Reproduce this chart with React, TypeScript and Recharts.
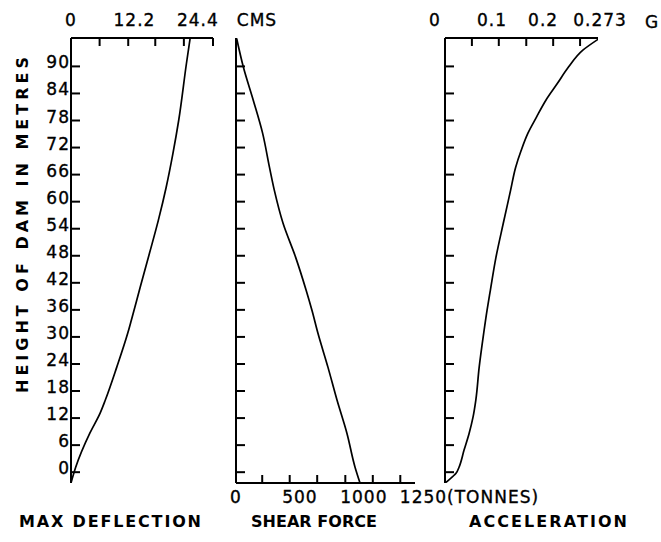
import { LineChart, Line, XAxis, YAxis } from 'recharts';

const W = 661;
const H = 542;
const FONT = '"DejaVu Sans", sans-serif';

// height of dam in metres (shared y axis)
const HEIGHT_TICKS = [0, 6, 12, 18, 24, 30, 36, 42, 48, 54, 60, 66, 72, 78, 84, 90];
const HEIGHT_DOMAIN = [-2.4, 96.3];

// max deflection (cms)
const DEFL_H = [96.2, 90.7, 78.0, 70.7, 63.2, 55.9, 48.6, 41.0, 33.7, 30.8, 23.3, 16.0, 13.1, 8.6, 1.1, -2.4];
const DEFL_CM = [22.9, 22.2, 20.7, 19.6, 18.3, 16.8, 15.1, 13.3, 11.6, 10.9, 8.8, 6.6, 5.6, 3.6, 0.9, 0];
const DEFL_MINOR = [5.5, 11, 16.2, 21.7, 27.3];
const DEFL_LABELS = [0, 12.2, 24.4];

// shear force (tonnes)
const SHEAR_H = [96.2, 89.8, 82.5, 75.2, 67.6, 62.5, 55.2, 47.7, 40.4, 35.9, 30.8, 23.3, 16.0, 8.6, 1.1, -2.4];
const SHEAR_T = [5, 58, 135, 208, 262, 300, 368, 466, 548, 594, 641, 719, 790, 868, 931, 970];
const SHEAR_MINOR = [205, 420, 635, 855, 1070, 1285];
const SHEAR_LABELS = [0, 500, 1000, 1250];

// acceleration (g)
const ACC_H = [96.0, 93.6, 89.8, 86.3, 82.5, 78.7, 75.2, 71.4, 67.6, 62.5, 55.2, 47.7, 40.4, 35.9, 30.8, 23.3, 16.0, 12.2, 8.6, 4.9, 1.1, -0.2, -1.8, -2.4];
const ACC_G = [0.273, 0.246, 0.22, 0.201, 0.18, 0.163, 0.148, 0.136, 0.126, 0.117, 0.104, 0.091, 0.081, 0.075, 0.069, 0.061, 0.055, 0.05, 0.043, 0.034, 0.025, 0.02, 0.006, 0];
const ACC_MINOR = [0.048, 0.096, 0.145, 0.193, 0.241];
const ACC_LABELS = [0, 0.1, 0.2, 0.273];

// ascending by height so the monotone curve runs bottom to top
const toRows = (hs: number[], xs: number[]) => hs.map((h, i) => ({ h, x: xs[i] })).reverse();

const labelStyle = { fontFamily: FONT, fontSize: 17, fill: '#000', stroke: '#000', strokeWidth: 0.35, letterSpacing: 1 };
const titleStyle = { fontFamily: FONT, fontSize: 16, fontWeight: 700, fill: '#000' };

const ACC_DX: Record<string, number> = { '0': -10, '0.1': -9, '0.2': -14, '0.273': 2 };

function TopTick(props: any) {
  const { x, y, payload, minor, labels, dxMap } = props;
  const v = payload.value;
  const dx = dxMap ? dxMap[String(v)] || 0 : 0;
  return (
    <g>
      {minor.includes(v) && <line x1={x} y1={y} x2={x} y2={y + 8} stroke="#000" strokeWidth={2} />}
      {labels.includes(v) && (
        <text x={x + dx} y={y - 18} textAnchor="middle" dominantBaseline="central" style={labelStyle}>{String(v)}</text>
      )}
    </g>
  );
}

function BottomTick(props: any) {
  const { x, y, payload } = props;
  const v = payload.value;
  if (v === 1250) {
    return <text x={x + 4} y={y + 14} textAnchor="start" dominantBaseline="central" style={labelStyle}>1250(TONNES)</text>;
  }
  return (
    <g>
      {SHEAR_MINOR.includes(v) && <line x1={x} y1={y} x2={x} y2={y - 8} stroke="#000" strokeWidth={2} />}
      {SHEAR_LABELS.includes(v) && (
        <text x={x} y={y + 14} textAnchor="middle" dominantBaseline="central" style={labelStyle}>{String(v)}</text>
      )}
    </g>
  );
}

function SideTick(props: any) {
  const { x, y, payload, showLabel } = props;
  return (
    <g>
      <line x1={x} y1={y} x2={x + 9} y2={y} stroke="#000" strokeWidth={2} />
      {showLabel && (
        <text x={x - 1} y={y - 4} textAnchor="end" dominantBaseline="central" style={labelStyle}>{payload.value}</text>
      )}
    </g>
  );
}

const axisLine = { stroke: '#000', strokeWidth: 2 };
const boxStyle = { position: 'absolute' as const, left: 0, top: 0 };

function heightAxis(showLabel: boolean) {
  return (
    <YAxis type="number" dataKey="h" domain={HEIGHT_DOMAIN} allowDataOverflow reversed ticks={HEIGHT_TICKS} interval={0}
      width={40} tickSize={0} tickMargin={0} tickLine={false} axisLine={axisLine}
      tick={(p: any) => <SideTick {...p} showLabel={showLabel} />} />
  );
}

function curve() {
  return <Line type="monotone" dataKey="x" stroke="#000" strokeWidth={1.7} dot={false} isAnimationActive={false} />;
}

export default function App() {
  return (
    <div style={{ position: 'relative', width: W, height: H, background: '#fff' }}>
      <style>{'body{margin:0}'}</style>

      <div style={boxStyle}>
        <LineChart layout="vertical" data={toRows(DEFL_H, DEFL_CM)} width={W} height={H}
          margin={{ top: 18, right: 448, bottom: 59, left: 31 }}>
          <XAxis type="number" orientation="top" domain={[0, 27.3]} allowDataOverflow height={20}
            ticks={[0, ...DEFL_MINOR, 12.2, 24.4].sort((a, b) => a - b)} interval={0}
            tickSize={0} tickMargin={0} tickLine={false} axisLine={axisLine}
            tick={(p: any) => <TopTick {...p} minor={DEFL_MINOR} labels={DEFL_LABELS} />} />
          {heightAxis(true)}
          {curve()}
        </LineChart>
      </div>

      <div style={boxStyle}>
        <LineChart layout="vertical" data={toRows(SHEAR_H, SHEAR_T)} width={W} height={H}
          margin={{ top: 38, right: 246, bottom: 39, left: 196 }}>
          <XAxis type="number" orientation="bottom" domain={[0, 1400]} allowDataOverflow height={20}
            ticks={[0, ...SHEAR_MINOR, 500, 1000, 1250].sort((a, b) => a - b)} interval={0}
            tickSize={0} tickMargin={0} tickLine={false} axisLine={axisLine}
            tick={(p: any) => <BottomTick {...p} />} />
          {heightAxis(false)}
          {curve()}
        </LineChart>
      </div>

      <div style={boxStyle}>
        <LineChart layout="vertical" data={toRows(ACC_H, ACC_G)} width={W} height={H}
          margin={{ top: 18, right: 63, bottom: 59, left: 405 }}>
          <XAxis type="number" orientation="top" domain={[0, 0.273]} allowDataOverflow height={20}
            ticks={[0, ...ACC_MINOR, 0.1, 0.2, 0.273].sort((a, b) => a - b)} interval={0}
            tickSize={0} tickMargin={0} tickLine={false} axisLine={axisLine}
            tick={(p: any) => <TopTick {...p} minor={ACC_MINOR} labels={ACC_LABELS} dxMap={ACC_DX} />} />
          {heightAxis(false)}
          {curve()}
        </LineChart>
      </div>

      <svg width={W} height={H} style={{ ...boxStyle, pointerEvents: 'none' }}>
        <text x={257} y={20} textAnchor="middle" dominantBaseline="central" style={labelStyle}>CMS</text>
        <text x={652} y={22} textAnchor="middle" dominantBaseline="central" style={labelStyle}>G</text>
        <text transform="translate(22,225) rotate(-90)" textAnchor="middle" dominantBaseline="central"
          textLength={336} lengthAdjust="spacing" style={titleStyle}>HEIGHT OF DAM IN METRES</text>
        <text x={110} y={521} textAnchor="middle" dominantBaseline="central" textLength={182} lengthAdjust="spacing" style={titleStyle}>MAX DEFLECTION</text>
        <text x={314} y={521} textAnchor="middle" dominantBaseline="central" textLength={126} lengthAdjust="spacing" style={titleStyle}>SHEAR FORCE</text>
        <text x={548} y={521} textAnchor="middle" dominantBaseline="central" textLength={158} lengthAdjust="spacing" style={titleStyle}>ACCELERATION</text>
      </svg>
    </div>
  );
}
